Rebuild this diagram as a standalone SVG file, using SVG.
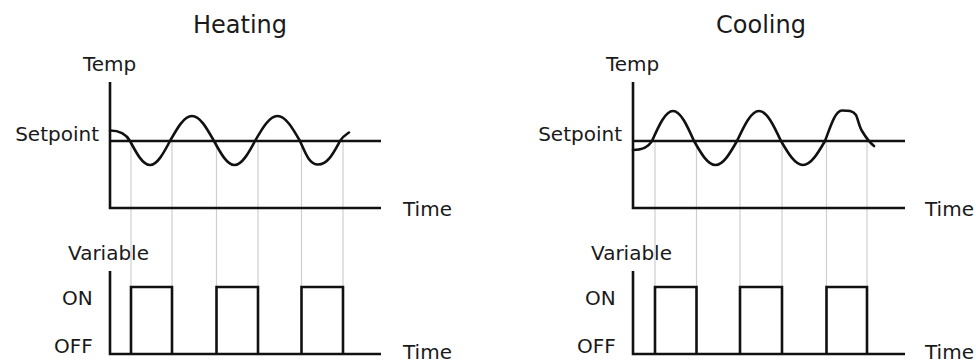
<svg xmlns="http://www.w3.org/2000/svg" width="976" height="363" viewBox="0 0 976 363">
<style>
text{font-family:"DejaVu Sans","Verdana",sans-serif;fill:#1a1a1a;font-size:20px}
.title{font-size:24px}
.ax{stroke:#111;stroke-width:2.6;fill:none}
.wave{stroke:#111;stroke-width:2.6;fill:none;stroke-linecap:round}
.grid{stroke:#cfcfcf;stroke-width:1.2;fill:none}
</style>
<rect width="976" height="363" fill="#fff"/>
<g id="heating">
<text class="title" x="240" y="33" text-anchor="middle">Heating</text>
<text x="83" y="71">Temp</text>
<text x="99" y="141" text-anchor="end">Setpoint</text>
<text x="403" y="216">Time</text>
<text x="68" y="260">Variable</text>
<text x="62" y="305">ON</text>
<text x="54" y="353">OFF</text>
<text x="403" y="359">Time</text>
<g class="grid">
<path d="M131,141V287M172,141V287M216.5,141V287M258,141V287M301.5,141V287M343,141V287"/>
</g>
<path class="ax" d="M110,82V208H381"/>
<path class="ax" d="M110,141H381"/>
<path class="ax" d="M110,271V354H381"/>
<path class="ax" d="M131,354V287H172V354M216.5,354V287H258V354M301.5,354V287H343V354"/>
<path class="wave" d="M110,130.5 C117,130.5 125,132 130,141 C136.5,153.3 142.8,165 150,165 C157.2,165 163.5,153.3 170,141 C177.2,128.2 184,116 192,116 C200,116 206.8,128.2 214,141 C220.7,153.3 227.1,165 234.5,165 C241.9,165 248.3,153.3 255,141 C262.3,128.2 269.4,116 277.5,116 C285.6,116 292.7,128.2 300,141 C305,152 309,164.5 318,164.5 C328,164.5 334,152 340,141 C343,136 346,134.5 349,132.5"/>
</g>
<g id="cooling">
<text class="title" x="761" y="33" text-anchor="middle">Cooling</text>
<text x="606" y="71">Temp</text>
<text x="622" y="141" text-anchor="end">Setpoint</text>
<text x="925" y="216">Time</text>
<text x="591" y="260">Variable</text>
<text x="585" y="305">ON</text>
<text x="577" y="353">OFF</text>
<text x="925" y="359">Time</text>
<g class="grid">
<path d="M655,141V287M696.5,141V287M740,141V287M782,141V287M826.5,141V287M867,141V287"/>
</g>
<path class="ax" d="M633,82V208H905"/>
<path class="ax" d="M633,141H905"/>
<path class="ax" d="M633,271V354H905"/>
<path class="ax" d="M655,354V287H696.5V354M740,354V287H782V354M826.5,354V287H867V354"/>
<path class="wave" d="M633,150 C640,150 647,149 652,141 C658.8,125.6 665.4,111 673,111 C680.6,111 687.2,125.6 694,141 C701,153.3 707.7,165 715.5,165 C723.3,165 730,153.3 737,141 C744.2,125.6 751,111 759,111 C767,111 773.8,125.6 781,141 C788.2,153.3 795,165 803,165 C811,165 817.8,153.3 825,141 C830,128 835,110.5 842,110.5 C848,110.5 853,110.5 856,115 C858,119 859,126 862,131 C865,136 869,142 874,146"/>
</g>
</svg>
